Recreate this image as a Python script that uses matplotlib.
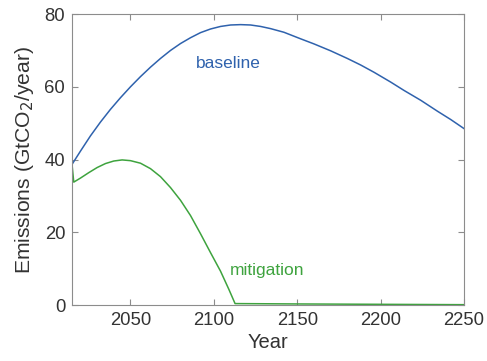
import matplotlib
matplotlib.use("Agg")
import matplotlib.pyplot as plt

plt.rcParams['font.family'] = ['Liberation Sans', 'DejaVu Sans']

# baseline emissions (GtCO2/year)
base_years = [2015, 2020, 2026, 2032, 2038, 2044, 2050, 2056, 2062, 2068, 2074, 2080,
              2086, 2092, 2098, 2104, 2110, 2116, 2122, 2128, 2134, 2142, 2152, 2160,
              2170, 2180, 2188, 2196, 2206, 2214, 2224, 2234, 2242, 2250]
base_vals = [38.7, 42.3, 46.5, 50.3, 53.8, 57.0, 60.0, 62.8, 65.4, 67.8, 70.0, 71.9,
             73.5, 74.9, 75.9, 76.6, 77.0, 77.1, 77.0, 76.6, 76.0, 75.0, 73.2, 71.8,
             69.9, 67.8, 66.0, 64.0, 61.3, 59.0, 56.3, 53.3, 51.0, 48.5]

# mitigation emissions
mit_years = [2015, 2016, 2020, 2025, 2030, 2035, 2040, 2045, 2050, 2056, 2062, 2068,
             2074, 2080, 2086, 2092, 2098, 2104, 2109, 2112.7, 2150, 2250]
mit_vals = [38.5, 33.8, 34.9, 36.4, 37.8, 38.9, 39.6, 39.9, 39.7, 39.0, 37.5, 35.3,
            32.3, 28.8, 24.6, 19.6, 14.4, 9.3, 4.3, 0.4, 0.3, 0.1]

xticks = [2050, 2100, 2150, 2200, 2250]
yticks = [0, 20, 40, 60, 80]

blue = '#2f62ad'
green = '#3ea33e'

fig = plt.figure(figsize=(4.87, 3.61), dpi=100)
ax = fig.add_axes([0.148, 0.155, 0.805, 0.806])

ax.plot(base_years, base_vals, color=blue, lw=1.1)
ax.plot(mit_years, mit_vals, color=green, lw=1.1)

ax.text(2108.5, 66.3, 'baseline', color=blue, fontsize=12.5, ha='center', va='center')
ax.text(2132, 9.4, 'mitigation', color=green, fontsize=12.5, ha='center', va='center')

ax.set_xlim(2015, 2250)
ax.set_ylim(0, 80)
ax.set_xticks(xticks)
ax.set_yticks(yticks)
ax.tick_params(direction='in', top=True, right=True, labelsize=13.3, pad=5,
               colors='#8c8c8c', labelcolor='#333333', length=4, width=0.8)
for s in ax.spines.values():
    s.set_color('#8c8c8c')
    s.set_linewidth(0.8)

ax.set_xlabel('Year', fontsize=14.5, color='#333333', labelpad=3)
ax.set_ylabel('Emissions (GtCO$_2$/year)', fontsize=15.2, color='#333333', labelpad=6)

fig.savefig('out.png', dpi=100)
